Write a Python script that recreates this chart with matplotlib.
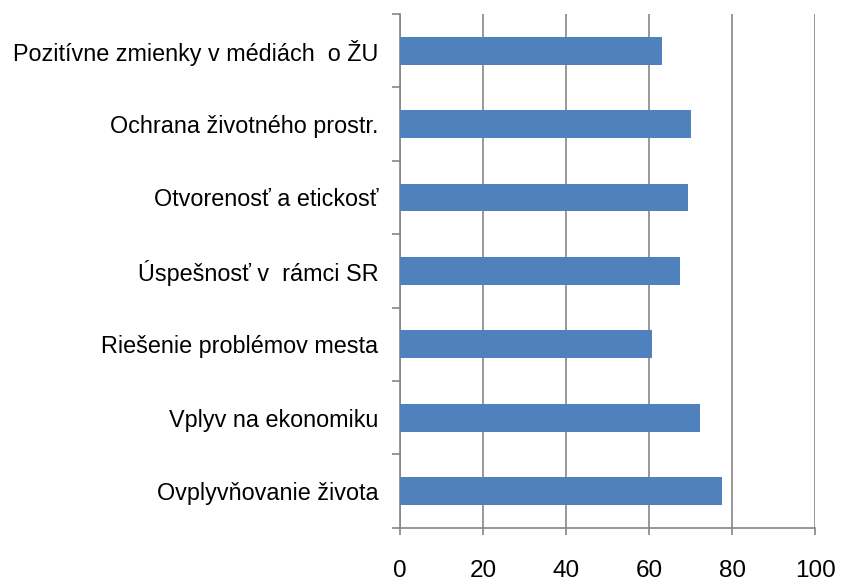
import matplotlib.pyplot as plt
import numpy as np

categories = [
    'Pozitívne zmienky v médiách  o ŽU',
    'Ochrana životného prostr.',
    'Otvorenosť a etickosť',
    'Úspešnosť v  rámci SR',
    'Riešenie problémov mesta',
    'Vplyv na ekonomiku',
    'Ovplyvňovanie života',
]
values = [63.2, 70.0, 69.5, 67.5, 60.8, 72.4, 77.7]
xticks = [0, 20, 40, 60, 80, 100]

plt.rcParams['font.family'] = ['Liberation Sans', 'DejaVu Sans']

fig = plt.figure(figsize=(8.42, 5.85), dpi=100)
ax = fig.add_axes([0.475, 0.098, 0.493, 0.878])

n = len(categories)
pos = np.arange(n)[::-1]
ax.barh(pos, values, height=0.38, color='#4F81BD', zorder=3)

ax.set_xlim(0, 100)
ax.set_ylim(-0.5, n - 0.5)
ax.set_xticks(xticks)
ax.set_xticklabels([str(t) for t in xticks], fontsize=17.5)
ax.grid(axis='x', color='#868686', linewidth=1.2, zorder=1)

# category labels without ticks, boundary ticks as minor ticks
ax.set_yticks(pos)
ax.set_yticklabels(categories, fontsize=16.8)
ax.tick_params(axis='y', which='major', length=0, pad=15.5)
ax.set_yticks(np.arange(-0.5, n, 1.0), minor=True)
ax.tick_params(axis='y', which='minor', length=6, width=1.2, color='#868686')
ax.tick_params(axis='x', length=5, width=1.2, color='#868686', pad=18)

for s in ['top', 'right']:
    ax.spines[s].set_visible(False)
for s in ['left', 'bottom']:
    ax.spines[s].set_color('#868686')
    ax.spines[s].set_linewidth(1.2)

fig.savefig('out.png', dpi=100)
